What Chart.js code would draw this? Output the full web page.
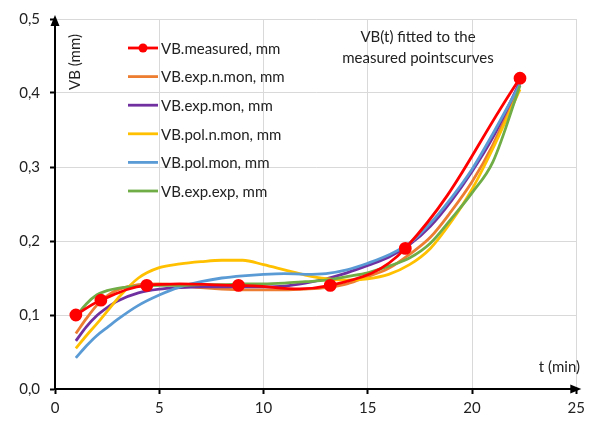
<!DOCTYPE html>
<html>
<head>
<meta charset="utf-8">
<script src="https://cdn.jsdelivr.net/npm/chart.js@4/dist/chart.umd.min.js"></script>
<style>
    body { margin: 0; background: #fff; }
    #wrap { width: 590px; height: 423px; }
</style>
</head>
<body>
<div id="wrap"><canvas id="vbChart" width="590" height="423"></canvas></div>
<script>
// VB(t) wear curves - measured points and fitted models

// Measured points
const measuredT = [1, 2.2, 4.4, 8.8, 13.2, 16.8, 22.3];
const measuredVB = [0.10, 0.12, 0.14, 0.14, 0.14, 0.19, 0.42];

// Fitted curves, sampled at these times (min)
const fitT = [1, 1.5, 2, 2.5, 3, 4, 5, 6, 7, 8, 9, 10, 11, 12, 13, 14, 15, 16, 17, 18, 19, 20, 21, 22.3];
const expNMon = [0.075, 0.095, 0.113, 0.126, 0.134, 0.141, 0.142, 0.140, 0.137, 0.135, 0.134, 0.134, 0.134, 0.135, 0.137, 0.142, 0.152, 0.163, 0.182, 0.205, 0.240, 0.280, 0.330, 0.412];
const expMon = [0.065, 0.084, 0.099, 0.110, 0.119, 0.130, 0.135, 0.137, 0.138, 0.138, 0.138, 0.138, 0.139, 0.143, 0.149, 0.157, 0.167, 0.178, 0.195, 0.220, 0.254, 0.294, 0.340, 0.415];
const polNMon = [0.055, 0.072, 0.088, 0.105, 0.122, 0.150, 0.164, 0.169, 0.172, 0.174, 0.174, 0.168, 0.161, 0.154, 0.149, 0.147, 0.149, 0.155, 0.168, 0.190, 0.226, 0.270, 0.325, 0.405];
const polMon = [0.042, 0.058, 0.072, 0.083, 0.094, 0.113, 0.127, 0.138, 0.145, 0.150, 0.153, 0.155, 0.156, 0.155, 0.156, 0.161, 0.170, 0.181, 0.197, 0.224, 0.258, 0.297, 0.345, 0.412];
const expExp = [0.098, 0.115, 0.127, 0.133, 0.136, 0.139, 0.140, 0.140, 0.141, 0.141, 0.142, 0.142, 0.143, 0.145, 0.147, 0.152, 0.157, 0.166, 0.177, 0.197, 0.230, 0.265, 0.307, 0.410];

// Axis ranges
const xMin = 0, xMax = 25, xStep = 5;
const yMin = 0, yMax = 0.5, yStep = 0.1;

const FONT = 'Lato, "Noto Sans", sans-serif';

function pts(xs, ys) {
    return xs.map((x, i) => ({ x: x, y: ys[i] }));
}

function fitted(label, ys, color, order) {
    return {
        label: label,
        data: pts(fitT, ys),
        borderColor: color,
        backgroundColor: color,
        borderWidth: 2.8,
        pointRadius: 0,
        showLine: true,
        cubicInterpolationMode: 'monotone',
        order: order
    };
}

// Legend drawn inside the plot, like the original
const insideLegend = {
    id: 'insideLegend',
    afterDraw(chart) {
        const ctx = chart.ctx;
        ctx.save();
        ctx.font = '15px ' + FONT;
        ctx.textBaseline = 'middle';
        chart.data.datasets.forEach((ds, i) => {
            const y = 48 + i * 28.6;
            ctx.strokeStyle = ds.borderColor;
            ctx.lineWidth = 2.8;
            ctx.beginPath();
            ctx.moveTo(128, y);
            ctx.lineTo(158, y);
            ctx.stroke();
            if (ds.pointRadius > 0) {
                ctx.fillStyle = ds.backgroundColor;
                ctx.beginPath();
                ctx.arc(143, y, 4.5, 0, Math.PI * 2);
                ctx.fill();
            }
            ctx.fillStyle = '#222';
            ctx.fillText(ds.label, 161, y + 1);
        });
        ctx.restore();
    }
};

// Axis arrows and axis titles
const axisDecor = {
    id: 'axisDecor',
    afterDraw(chart) {
        const ctx = chart.ctx;
        const a = chart.chartArea;
        ctx.save();
        ctx.fillStyle = '#000';
        // y arrow
        ctx.beginPath();
        ctx.moveTo(a.left, a.top - 4);
        ctx.lineTo(a.left - 4.5, a.top + 7);
        ctx.lineTo(a.left + 4.5, a.top + 7);
        ctx.closePath();
        ctx.fill();
        // x arrow
        ctx.beginPath();
        ctx.moveTo(a.right + 5, a.bottom);
        ctx.lineTo(a.right - 6, a.bottom - 4.5);
        ctx.lineTo(a.right - 6, a.bottom + 4.5);
        ctx.closePath();
        ctx.fill();

        ctx.fillStyle = '#222';
        ctx.font = '15px ' + FONT;
        ctx.textBaseline = 'middle';
        // y title, rotated
        ctx.save();
        ctx.translate(75, 62);
        ctx.rotate(-Math.PI / 2);
        ctx.textAlign = 'center';
        ctx.fillText('VB (mm)', 0, 0);
        ctx.restore();
        // x title
        ctx.textAlign = 'right';
        ctx.fillText('t (min)', 580, 367);
        // note
        ctx.textAlign = 'center';
        ctx.fillText('VB(t) fitted to the', 418, 37);
        ctx.fillText('measured pointscurves', 418, 58);
        ctx.restore();
    }
};

const ctx = document.getElementById('vbChart').getContext('2d');
new Chart(ctx, {
    type: 'scatter',
    data: {
        datasets: [
            {
                label: 'VB.measured, mm',
                data: pts(measuredT, measuredVB),
                borderColor: '#ff0000',
                backgroundColor: '#ff0000',
                borderWidth: 2.8,
                pointRadius: 5,
                pointHoverRadius: 5,
                showLine: true,
                tension: 0.4,
                order: 0
            },
            fitted('VB.exp.n.mon, mm', expNMon, '#ed7d31', 5),
            fitted('VB.exp.mon, mm', expMon, '#7030a0', 4),
            fitted('VB.pol.n.mon, mm', polNMon, '#ffc000', 3),
            fitted('VB.pol.mon, mm', polMon, '#5b9bd5', 2),
            fitted('VB.exp.exp, mm', expExp, '#70ad47', 1)
        ]
    },
    options: {
        responsive: false,
        animation: false,
        layout: { padding: { top: 16, right: 11, left: 0, bottom: 0 } },
        plugins: {
            legend: { display: false },
            tooltip: { enabled: false }
        },
        scales: {
            x: {
                type: 'linear',
                min: xMin,
                max: xMax,
                afterFit: (scale) => { scale.height = 34; },
                ticks: {
                    stepSize: xStep,
                    padding: 5,
                    color: '#222',
                    font: { family: FONT, size: 15 }
                },
                grid: {
                    color: '#d9d9d9',
                    lineWidth: 1,
                    tickLength: 5,
                    tickColor: '#000',
                    tickWidth: 2
                },
                border: { color: '#000', width: 2 }
            },
            y: {
                min: yMin,
                max: yMax,
                afterFit: (scale) => { scale.width = 55; },
                ticks: {
                    stepSize: yStep,
                    padding: 10,
                    color: '#222',
                    font: { family: FONT, size: 15 },
                    callback: (v) => v.toFixed(1).replace('.', ',')
                },
                grid: {
                    color: '#d9d9d9',
                    lineWidth: 1,
                    tickLength: 5,
                    tickColor: '#000',
                    tickWidth: 2
                },
                border: { color: '#000', width: 2 }
            }
        }
    },
    plugins: [insideLegend, axisDecor]
});
</script>
</body>
</html>
